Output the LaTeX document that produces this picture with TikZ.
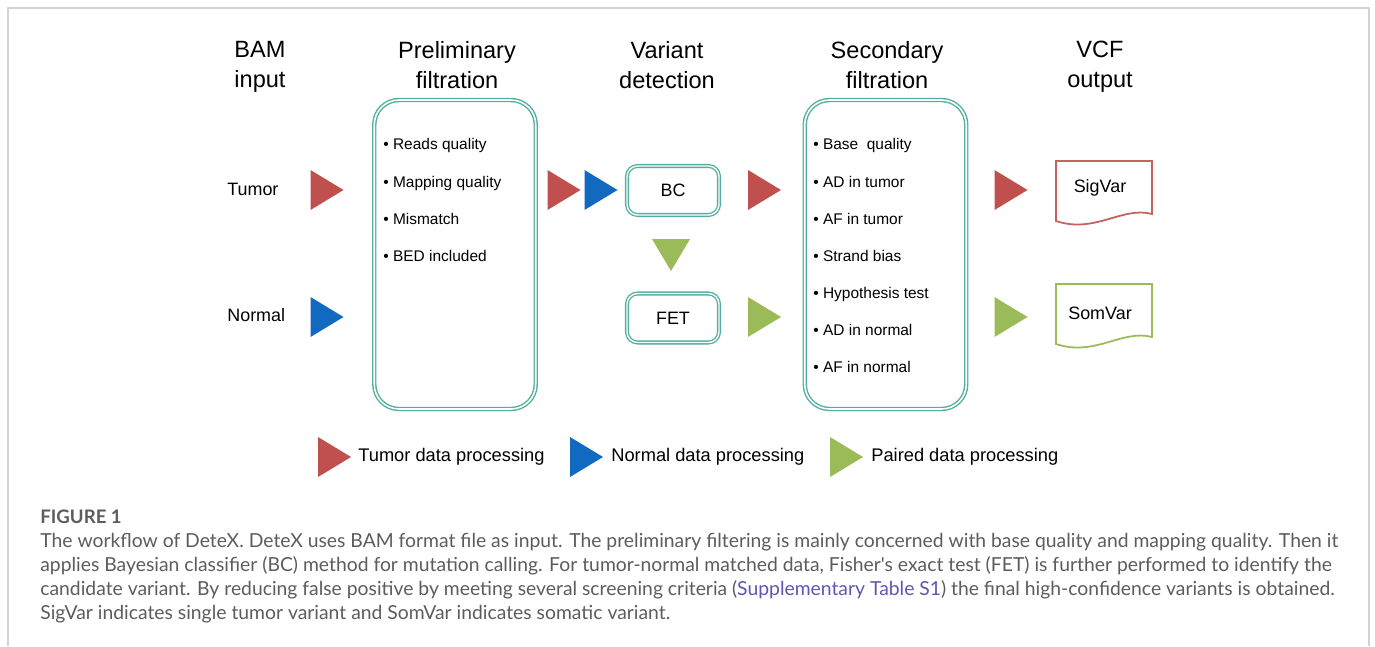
\documentclass[tikz,border=0pt]{standalone}
\usepackage{fontspec}
\setmainfont{Liberation Sans}
\newfontfamily\capfont{Lato}
\usetikzlibrary{positioning}
\definecolor{tumorRed}{HTML}{C0504D}
\definecolor{normalBlue}{HTML}{1269C0}
\definecolor{pairGreen}{HTML}{9BBB59}
\definecolor{boxTeal}{HTML}{52AEA2}
\definecolor{frameGray}{HTML}{D3D3D3}
\definecolor{capGray}{HTML}{5C5C5C}
\definecolor{linkPurple}{HTML}{5B57B5}

\begin{document}
\begin{tikzpicture}[
    x=0.02cm,y=-0.02cm,
    head/.style={font=\fontsize{13.4}{17}\selectfont,align=center},
    stage/.style={rectangle,draw=boxTeal,double=white,double distance=0.9pt,
                  line width=0.8pt,rounded corners=14pt,
                  minimum width=3.23cm,minimum height=6.18cm},
    tool/.style={rectangle,draw=boxTeal,double=white,double distance=0.8pt,
                 line width=0.75pt,rounded corners=6pt,
                 minimum width=1.84cm,minimum height=0.98cm,
                 font=\fontsize{10.2}{12}\selectfont},
    item/.style={anchor=base west,inner sep=0pt,font=\fontsize{8.8}{10}\selectfont},
    side/.style={anchor=west,inner sep=0pt,font=\fontsize{10.2}{12}\selectfont},
    key/.style={anchor=west,inner sep=0pt,font=\fontsize{10.4}{12}\selectfont},
    doc/.style={line width=1pt},
    rtri/.pic={\fill (-16,-20) -- (17,0) -- (-16,20) -- cycle;},
    dtri/.pic={\fill (-19,-16) -- (19,-16) -- (0,16) -- cycle;}
  ]
  \useasboundingbox (0,0) rectangle (1375,646);
  %% Frame
  \draw[frameGray,line width=1.1pt] (8,646) -- (8,8) -- (1369,8) -- (1369,646);
  %% Column headings
  \node[head] (hBam)  at (260,67)  {BAM\\input};
  \node[head] (hPre)  at (457,65)  {Preliminary\\filtration};
  \node[head] (hVar)  at (667,65)  {Variant\\detection};
  \node[head] (hSec)  at (887,65)  {Secondary\\filtration};
  \node[head] (hVcf)  at (1100,67) {VCF\\output};
  %% Inputs
  \node[side] (tumor)  at (227,189) {Tumor};
  \node[side] (normal) at (227,315) {Normal};
  \pic[fill=tumorRed]   at (326.5,190) {rtri};
  \pic[fill=normalBlue] at (326.5,317) {rtri};
  %% Preliminary filtration
  \node[stage] (pre) at (455,254.5) {};
  \node[item] (p1) at (383,149) {\textbullet\ Reads quality};
  \node[item] (p2) at (383,187) {\textbullet\ Mapping quality};
  \node[item] (p3) at (383,224) {\textbullet\ Mismatch};
  \node[item] (p4) at (383,261) {\textbullet\ BED included};
  \pic[fill=tumorRed]   at (563.5,190) {rtri};
  \pic[fill=normalBlue] at (600.5,190) {rtri};
  %% Variant detection
  \node[tool] (bc)  at (673,190.5) {BC};
  \node[tool] (fet) at (673,318)   {FET};
  \pic[fill=pairGreen] at (671,255) {dtri};
  \pic[fill=tumorRed]  at (764,190) {rtri};
  \pic[fill=pairGreen] at (764,317) {rtri};
  %% Secondary filtration
  \node[stage] (sec) at (885.5,254.5) {};
  \node[item] (s1) at (813,149) {\textbullet\ Base\ \ quality};
  \node[item] (s2) at (813,187) {\textbullet\ AD in tumor};
  \node[item] (s3) at (813,224) {\textbullet\ AF in tumor};
  \node[item] (s4) at (813,261) {\textbullet\ Strand bias};
  \node[item] (s5) at (813,298) {\textbullet\ Hypothesis test};
  \node[item] (s6) at (813,335) {\textbullet\ AD in normal};
  \node[item] (s7) at (813,372) {\textbullet\ AF in normal};
  \pic[fill=tumorRed]  at (1010.5,190) {rtri};
  \pic[fill=pairGreen] at (1010.5,317) {rtri};
  %% VCF output
  \node[font=\fontsize{10.2}{12}\selectfont] (sig) at (1100,188) {SigVar};
  \draw[doc,tumorRed!90!white] (1056,161) -- (1152,161) -- (1152,214)
    .. controls (1122,206) and (1095,234) .. (1056,221) -- cycle;
  \node[font=\fontsize{10.2}{12}\selectfont] (som) at (1100,313) {SomVar};
  \draw[doc,pairGreen] (1056,284) -- (1152,284) -- (1152,337)
    .. controls (1122,329) and (1095,357) .. (1056,344) -- cycle;
  %% Legend
  \pic[fill=tumorRed]   at (334,457) {rtri};
  \node[key] (kTum) at (358,457) {Tumor data processing};
  \pic[fill=normalBlue] at (586,457) {rtri};
  \node[key] (kNor) at (611,457) {Normal data processing};
  \pic[fill=pairGreen]  at (846,457) {rtri};
  \node[key] (kPai) at (871,457) {Paired data processing};
  %% Caption
  \node[anchor=base west,inner sep=0pt,text=capGray,
        font=\capfont\bfseries\fontsize{10.6}{12}\selectfont] (fig) at (40,523) {FIGURE 1};
  \node[anchor=base west,inner sep=0pt,text=capGray,align=left,
        font=\capfont\fontsize{11}{13.66}\selectfont] (cap) at (40,619)
    {The workflow of DeteX. DeteX uses BAM format file as input. The preliminary filtering is mainly concerned with base quality and mapping quality. Then it\\
     applies Bayesian classifier (BC) method for mutation calling. For tumor-normal matched data, Fisher's exact test (FET) is further performed to identify the\\
     candidate variant. By reducing false positive by meeting several screening criteria ({\color{linkPurple}Supplementary Table S1}) the final high-confidence variants is obtained.\\
     SigVar indicates single tumor variant and SomVar indicates somatic variant.};
\end{tikzpicture}
\end{document}
